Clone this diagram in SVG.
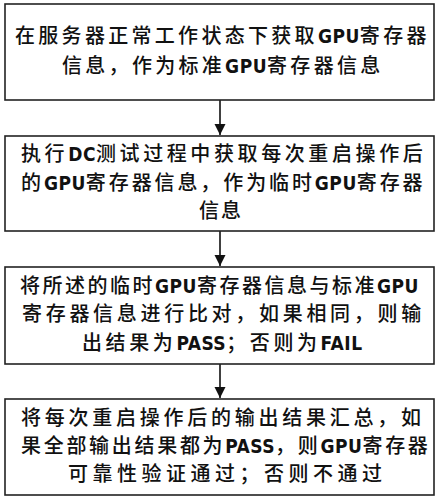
<svg xmlns="http://www.w3.org/2000/svg" width="439" height="500" viewBox="0 0 439 500">
<style>
.box{fill:#fff;stroke:#222;stroke-width:1.6}
.t{font-family:"Noto Sans CJK SC","Noto Sans",sans-serif;font-size:20px;font-weight:500;fill:#111}
.l{font-family:"DejaVu Sans Condensed","Liberation Sans Narrow","Liberation Sans",sans-serif;font-stretch:condensed;font-weight:bold;font-size:19px;letter-spacing:0.5px}
.c{stroke:#111;stroke-width:1.6;fill:none}
</style>
<defs>
<marker id="ah" markerWidth="12" markerHeight="14" refX="11" refY="7" orient="auto" markerUnits="userSpaceOnUse">
<path d="M0,1.5 L11,7 L0,12.5 Z" fill="#111"/>
</marker>
</defs>
<rect width="439" height="500" fill="#fff"/>
<g id="connectors">
<line class="c" x1="220" y1="100" x2="220" y2="135" marker-end="url(#ah)"/>
<line class="c" x1="220" y1="231" x2="220" y2="266" marker-end="url(#ah)"/>
<line class="c" x1="220" y1="364" x2="220" y2="398" marker-end="url(#ah)"/>
</g>
<g id="n1">
<rect class="box" x="5" y="4" width="429" height="96"/>
<text class="t" x="15" y="43" letter-spacing="3.3">在服务器正常工作状态下获取<tspan class="l">GPU</tspan>寄存器</text>
<text class="t" x="62" y="73" letter-spacing="3.3">信息，作为标准<tspan class="l">GPU</tspan>寄存器信息</text>
</g>
<g id="n2">
<rect class="box" x="5" y="136" width="429" height="95"/>
<text class="t" x="21" y="161" letter-spacing="3.6">执行<tspan class="l">DC</tspan>测试过程中获取每次重启操作后</text>
<text class="t" x="21" y="190" letter-spacing="2.9">的<tspan class="l">GPU</tspan>寄存器信息，作为临时<tspan class="l">GPU</tspan>寄存器</text>
<text class="t" x="199" y="218" letter-spacing="2">信息</text>
</g>
<g id="n3">
<rect class="box" x="5" y="267" width="429" height="97"/>
<text class="t" x="20" y="293" letter-spacing="2.5">将所述的临时<tspan class="l">GPU</tspan>寄存器信息与标准<tspan class="l">GPU</tspan></text>
<text class="t" x="22" y="321" letter-spacing="3.7">寄存器信息进行比对，如果相同，则输</text>
<text class="t" x="82" y="350" letter-spacing="3.6">出结果为<tspan class="l">PASS</tspan>；否则为<tspan class="l">FAIL</tspan></text>
</g>
<g id="n4">
<rect class="box" x="5" y="399" width="429" height="96"/>
<text class="t" x="21" y="425" letter-spacing="3.75">将每次重启操作后的输出结果汇总，如</text>
<text class="t" x="21" y="453" letter-spacing="2.7">果全部输出结果都为<tspan class="l">PASS</tspan>，则<tspan class="l">GPU</tspan>寄存器</text>
<text class="t" x="68" y="481" letter-spacing="4.5">可靠性验证通过；否则不通过</text>
</g>
</svg>
